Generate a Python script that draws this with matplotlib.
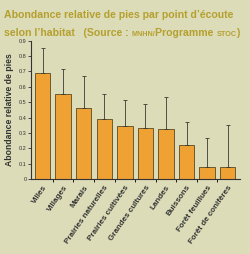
import numpy as np
import matplotlib.pyplot as plt

plt.rcParams['font.family'] = ['Liberation Sans', 'DejaVu Sans']

# habitats et valeurs
habitats = ['Villes', 'Villages', 'Marais', 'Prairies naturelles', 'Prairies cultivées',
            'Grandes cultures', 'Landes', 'Buissons', 'Forêt feuillues', 'Forêt de conifères']
abondance = [0.69, 0.555, 0.465, 0.39, 0.345, 0.333, 0.327, 0.222, 0.076, 0.076]
erreur_haut = [0.855, 0.715, 0.67, 0.55, 0.514, 0.49, 0.533, 0.37, 0.268, 0.35]

fond = '#dcdcb9'
titre = '#b5a02e'
fig = plt.figure(figsize=(2.5, 2.54), dpi=100, facecolor=fond)
ax = fig.add_axes([0.125, 0.295, 0.835, 0.545], facecolor=fond)

x = np.arange(len(habitats))
err = np.array(erreur_haut) - np.array(abondance)
ax.bar(x, abondance, width=0.75, color='#f0a133', edgecolor='#5a4a20', linewidth=0.6,
       yerr=[np.zeros(len(x)), err], error_kw=dict(ecolor='#3a3a30', elinewidth=0.6, capsize=1.5, capthick=0.6))

ax.set_xlim(-0.55, len(x) - 0.4)
ax.set_ylim(0, 0.9)
ax.set_yticks(np.arange(0, 0.91, 0.1))
ax.set_yticklabels(['0'] + ['%.1f' % v for v in np.arange(0.1, 0.91, 0.1)], fontsize=4)
ax.tick_params(axis='y', length=2, width=0.6, pad=1.5, colors='#333333')

ax.set_xticks(x)
ax.set_xticklabels(habitats, rotation=55, ha='right', rotation_mode='anchor',
                   fontsize=5.8, fontweight='bold', color='#333333')
ax.tick_params(axis='x', length=0, pad=3.5)
ax.set_xticks(x[:-1] + 0.5, minor=True)
ax.tick_params(axis='x', which='minor', length=2, width=0.6)

for s in ['top', 'right']:
    ax.spines[s].set_visible(False)
for s in ['left', 'bottom']:
    ax.spines[s].set_linewidth(0.8)
    ax.spines[s].set_color('#333333')

ax.set_ylabel('Abondance relative de pies', fontsize=6.2, fontweight='bold', color='#333333', labelpad=3)

# titre sur deux lignes, avec petites capitales simulées
fig.text(0.016, 0.93, "Abondance relative de pies par point d\u2019écoute", fontsize=7.6,
         fontweight='bold', color=titre, va='baseline', ha='left')
morceaux = [("selon l\u2019habitat   (Source : ", 7.6), ("MNHN/", 5.2), ("Programme ", 7.6), ("STOC", 5.2), (")", 7.6)]
for txt, fs in morceaux:
    fig.text(0.016, 0.858, txt, fontsize=fs, fontweight='bold', color=titre, va='baseline', ha='left')
fig.canvas.draw()
# on place les morceaux bout à bout
xpos = None
for t in fig.texts[1:]:
    if xpos is not None:
        t.set_position((xpos / fig.bbox.width, 0.858))
        fig.canvas.draw()
    xpos = t.get_window_extent().x1

fig.savefig('out.png', dpi=100, facecolor=fond)
